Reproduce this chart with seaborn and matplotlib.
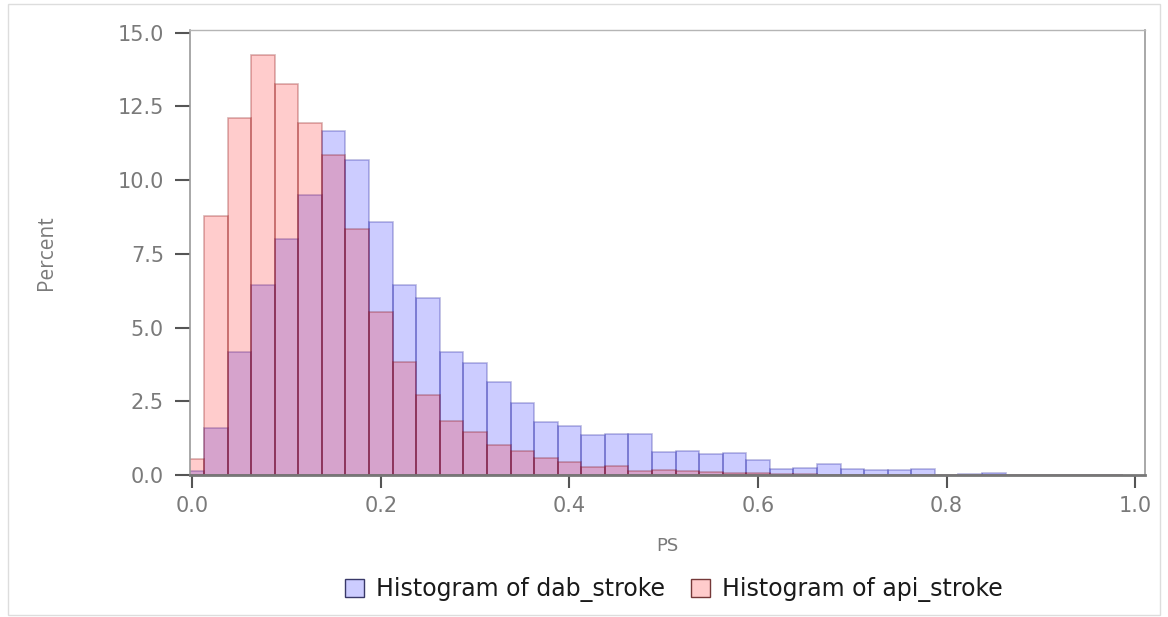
import numpy as np
import pandas as pd
import matplotlib
matplotlib.use("Agg")
import matplotlib.pyplot as plt
from matplotlib.patches import Patch, Rectangle
import seaborn as sns

# -----------------------------
# Data (percent per PS bin, bin width 0.025, bins centred on k*0.025)
# -----------------------------
bin_width = 0.025
dab_stroke = [0.14, 1.58, 4.17, 6.44, 8.02, 9.49, 11.66, 10.68, 8.57, 6.46,
              5.99, 4.18, 3.79, 3.15, 2.43, 1.81, 1.68, 1.35, 1.39, 1.39,
              0.77, 0.80, 0.72, 0.75, 0.51, 0.21, 0.23, 0.38, 0.21, 0.16,
              0.17, 0.19, 0.01, 0.03, 0.07, 0.0, 0.0, 0.0, 0.0, 0.0]
api_stroke = [0.53, 8.78, 12.10, 14.25, 13.25, 11.92, 10.84, 8.34, 5.54, 3.84,
              2.70, 1.84, 1.46, 1.02, 0.80, 0.58, 0.46, 0.27, 0.31, 0.14,
              0.17, 0.15, 0.10, 0.07, 0.06, 0.03, 0.03, 0.02, 0.02, 0.02,
              0.01, 0.01, 0.0, 0.0, 0.0, 0.0, 0.0, 0.0, 0.0, 0.0]
series_labels = ["Histogram of dab_stroke", "Histogram of api_stroke"]
y_ticks = [0.0, 2.5, 5.0, 7.5, 10.0, 12.5, 15.0]
x_ticks = [0.0, 0.2, 0.4, 0.6, 0.8, 1.0]

n_bins = len(dab_stroke)
centers = np.arange(n_bins) * bin_width
edges = [float(e) for e in np.append(centers - bin_width / 2, centers[-1] + bin_width / 2)]

df = pd.DataFrame({"PS": centers, "dab": dab_stroke, "api": api_stroke})

# -----------------------------
# Plot
# -----------------------------
sns.set_style("white")
plt.rcParams['font.family'] = ['DejaVu Sans']

fig = plt.figure(figsize=(11.68, 6.17), dpi=100)
ax = fig.add_axes([0.163, 0.230, 0.817, 0.721])

blue_face = (0.0, 0.0, 1.0, 0.2)
blue_edge = (0.1, 0.1, 0.6, 0.3)
red_face = (1.0, 0.0, 0.0, 0.2)
red_edge = (0.5, 0.0, 0.0, 0.3)

sns.histplot(data=df, x="PS", weights="dab", bins=edges, ax=ax,
             facecolor=blue_face, edgecolor=blue_edge, linewidth=1.2)
sns.histplot(data=df, x="PS", weights="api", bins=edges, ax=ax,
             facecolor=red_face, edgecolor=red_edge, linewidth=1.2)

ax.set_xlim(-0.002, 1.01)
ax.set_ylim(0, 15.08)
ax.set_xticks(x_ticks)
ax.set_yticks(y_ticks)
ax.set_xticklabels([f"{t:.1f}" for t in x_ticks])
ax.set_yticklabels([f"{t:.1f}" for t in y_ticks])

grey = "#7a7a7a"
ax.tick_params(axis="both", which="major", direction="out",
               width=1.5, color="#555555", labelcolor=grey, labelsize=15,
               bottom=True, left=True)
ax.tick_params(axis="y", length=11, pad=8)
ax.tick_params(axis="x", length=9, pad=6)
for side in ["left", "bottom", "right", "top"]:
    ax.spines[side].set_color("#9a9a9a")
    ax.spines[side].set_linewidth(1.2)
ax.spines["top"].set_color("#b5b5b5")
ax.spines["top"].set_linewidth(1.0)
ax.spines["bottom"].set_color("#777777")
ax.spines["bottom"].set_linewidth(2)

ax.set_xlabel("PS", color=grey, fontsize=13, labelpad=15)
ax.set_ylabel("Percent", color=grey, fontsize=15, labelpad=44,
              family=["Open Sans", "DejaVu Sans"])

handles = [Patch(facecolor=blue_face, edgecolor=(0.15, 0.15, 0.35, 0.9), linewidth=1),
           Patch(facecolor=red_face, edgecolor=(0.4, 0.15, 0.15, 0.9), linewidth=1)]
fig.legend(handles, series_labels, loc="lower center", ncol=2, frameon=False,
           fontsize=17, bbox_to_anchor=(0.577, -0.01), handlelength=0.8,
           handleheight=0.8, columnspacing=1.1, handletextpad=0.5,
           labelcolor="#1a1a1a")

# light outer border
fig.patches.append(Rectangle((0.007, 0.003), 0.986, 0.99, transform=fig.transFigure,
                             fill=False, edgecolor="#dddddd", linewidth=1))

fig.savefig("out.png", dpi=100)
plt.close(fig)
